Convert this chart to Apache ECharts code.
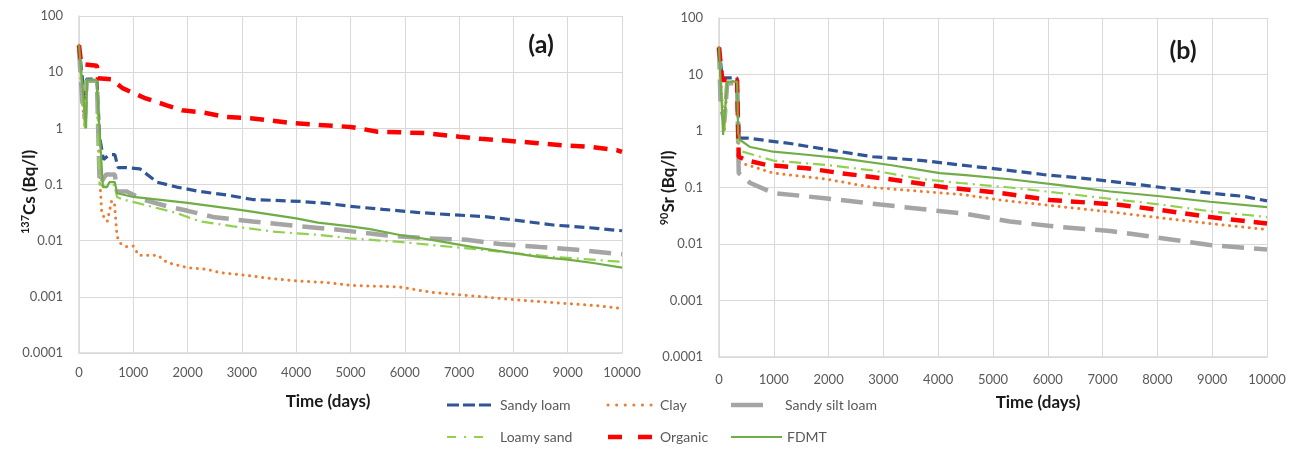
<!DOCTYPE html>
<html>
<head>
<meta charset="utf-8">
<script src="https://cdn.jsdelivr.net/npm/echarts@6/dist/echarts.min.js"></script>
<style>
html,body{margin:0;padding:0;background:#fff;}
#c{width:1298px;height:449px;}
</style>
</head>
<body>
<div id="c"></div>
<script>
// ---------- DATA ----------
const xTicks = [0,1000,2000,3000,4000,5000,6000,7000,8000,9000,10000];
const yTicks = [0.0001,0.001,0.01,0.1,1,10,100];
const seriesNames = ['Sandy loam','Clay','Sandy silt loam','Loamy sand','Organic','FDMT'];

// (a) 137Cs  [day, Bq/l]
const csSandyLoam = [[0,30],[60,8],[110,3],[140,7.5],[330,7.5],[380,0.7],[450,0.28],[560,0.34],[660,0.34],[720,0.2],[880,0.2],[1120,0.19],[1440,0.11],[1800,0.09],[2230,0.075],[2720,0.065],[3200,0.054],[4070,0.05],[4570,0.046],[4990,0.041],[5600,0.036],[6220,0.032],[6830,0.029],[7440,0.027],[8070,0.023],[8730,0.019],[9410,0.017],[10000,0.015]];
const csClay = [[0,30],[60,3],[110,1],[140,7],[330,7],[370,0.2],[420,0.03],[520,0.022],[600,0.05],[650,0.05],[700,0.012],[760,0.009],[880,0.0078],[1000,0.008],[1100,0.0055],[1450,0.0055],[1620,0.0041],[2000,0.0033],[2350,0.0031],[2600,0.0027],[3100,0.0024],[3570,0.0021],[4070,0.0019],[4570,0.0018],[5000,0.0016],[5900,0.0015],[6500,0.0012],[7440,0.001],[8070,0.00088],[8980,0.00076],[9500,0.0007],[10000,0.00062]];
const csSandySiltLoam = [[0,25],[60,3],[110,1.5],[140,7],[330,7],[380,0.1],[500,0.15],[660,0.15],[700,0.075],[880,0.075],[1180,0.054],[1620,0.041],[2000,0.034],[2500,0.026],[3200,0.022],[4070,0.018],[4680,0.016],[5600,0.0126],[6400,0.011],[7140,0.0104],[7750,0.0087],[8490,0.0077],[9170,0.0069],[10000,0.0057]];
const csLoamySand = [[0,28],[60,4],[110,1],[140,7],[330,7],[380,0.1],[500,0.09],[660,0.1],[700,0.06],[810,0.054],[1070,0.047],[1800,0.031],[2230,0.022],[2840,0.018],[3570,0.0145],[4440,0.0126],[4990,0.011],[5910,0.0095],[6830,0.0078],[7750,0.0064],[8670,0.0052],[10000,0.0042]];
const csOrganic = [[0,30],[40,14],[330,13],[350,7.8],[600,7.5],[800,5.2],[1200,3.5],[1600,2.6],[1900,2.1],[2300,1.9],[2700,1.6],[3200,1.5],[3900,1.25],[4400,1.15],[5000,1.06],[5500,0.87],[5900,0.85],[6400,0.82],[7000,0.71],[7400,0.65],[7900,0.6],[8400,0.55],[8900,0.5],[9400,0.47],[9900,0.41],[10000,0.38]];
const csFDMT = [[0,30],[130,1],[150,7.2],[325,7.2],[440,0.09],[515,0.09],[560,0.11],[660,0.11],[700,0.07],[1000,0.06],[2000,0.047],[3000,0.035],[4000,0.025],[4400,0.021],[5000,0.018],[5360,0.016],[5910,0.0126],[6520,0.0102],[7260,0.0077],[8000,0.006],[8500,0.0051],[9000,0.0046],[9470,0.004],[10000,0.0033]];

// (b) 90Sr  [day, Bq/l]
const srSandyLoam = [[0,30],[60,8.7],[330,8.7],[370,0.75],[510,0.75],[1300,0.6],[1970,0.47],[2810,0.35],[3720,0.3],[4400,0.25],[5130,0.21],[5910,0.17],[6820,0.14],[7740,0.11],[8650,0.085],[9560,0.07],[10000,0.058]];
const srClay = [[0,30],[60,3],[100,1],[150,7.5],[330,7.5],[360,0.28],[990,0.18],[1970,0.14],[2810,0.1],[3720,0.085],[4450,0.075],[5130,0.06],[6220,0.046],[7140,0.037],[8050,0.029],[8960,0.023],[10000,0.018]];
const srSandySiltLoam = [[0,30],[30,2.7],[100,1.5],[150,7],[330,7],[360,0.18],[570,0.12],[990,0.08],[1970,0.064],[2940,0.05],[3850,0.04],[4520,0.034],[5310,0.025],[6220,0.02],[7140,0.017],[8050,0.0128],[8960,0.0096],[10000,0.008]];
const srLoamySand = [[0,30],[60,3],[100,1],[150,7.5],[330,7.5],[360,0.45],[990,0.3],[1970,0.25],[2810,0.2],[3720,0.14],[4400,0.12],[5310,0.1],[6220,0.08],[7140,0.063],[8050,0.05],[8960,0.038],[10000,0.03]];
const srOrganic = [[0,30],[60,8],[330,8],[360,0.35],[510,0.3],[880,0.25],[1600,0.22],[2210,0.18],[3120,0.14],[4160,0.1],[5130,0.08],[6040,0.06],[7260,0.05],[8050,0.04],[8960,0.03],[10000,0.023]];
const srFDMT = [[0,30],[75,0.85],[150,7.5],[330,7.5],[350,0.9],[380,0.7],[570,0.52],[990,0.43],[1600,0.38],[2210,0.33],[3120,0.25],[4030,0.18],[4500,0.165],[5310,0.14],[6220,0.11],[7140,0.085],[8050,0.07],[8960,0.056],[10000,0.045]];

// ---------- STYLES ----------
const styles = {
  'Sandy loam':      {color:'#2F5597', width:3.2, type:[10,5],    cap:'butt'},
  'Clay':            {color:'#ED7D31', width:3,   type:[0.1,6.5], cap:'round'},
  'Sandy silt loam': {color:'#A5A5A5', width:4.5, type:[22,10],   cap:'butt'},
  'Loamy sand':      {color:'#92D050', width:2.2, type:[12,5,2,5],cap:'butt'},
  'Organic':         {color:'#FF0000', width:4.5, type:[14,9],    cap:'butt'},
  'FDMT':            {color:'#70AD47', width:2.2, type:'solid',   cap:'butt'}
};
const dataA = [csSandyLoam,csClay,csSandySiltLoam,csLoamySand,csOrganic,csFDMT];
const dataB = [srSandyLoam,srClay,srSandySiltLoam,srLoamySand,srOrganic,srFDMT];

const FONT = 'Lato, "Open Sans", sans-serif';
const LABEL = '#595959';
const GRIDC = '#D9D9D9';

function mkSeries(arr, idx){
  return seriesNames.map((n,i)=>({
    name:n, type:'line', xAxisIndex:idx, yAxisIndex:idx, data:arr[i],
    showSymbol:false, symbol:'none', smooth:false, animation:false,
    z: n==='FDMT'?3:2,
    lineStyle:{color:styles[n].color, width:styles[n].width, type:styles[n].type, cap:styles[n].cap},
    itemStyle:{color:styles[n].color}
  }));
}
function fmtY(v){ return String(Number(v.toPrecision(1))); }
function mkX(idx, margin){
  return {gridIndex:idx, type:'value', min:0, max:10000, interval:1000,
    axisLine:{show:true,lineStyle:{color:GRIDC,width:1.5}}, axisTick:{show:false},
    splitLine:{show:true,lineStyle:{color:GRIDC,width:1}},
    axisLabel:{color:LABEL,fontSize:13,fontFamily:FONT,margin:margin,formatter:v=>String(v)}};
}
function mkY(idx){
  return {gridIndex:idx, type:'log', logBase:10, min:0.0001, max:100,
    axisLine:{show:true,lineStyle:{color:GRIDC,width:1.5}}, axisTick:{show:false},
    splitLine:{show:true,lineStyle:{color:GRIDC,width:1}},
    axisLabel:{color:LABEL,fontSize:13,fontFamily:FONT,margin:16,formatter:fmtY}};
}

// legend (drawn as graphics): symbol x range, row centre y, text x, legend line dash
const legendItems = [
  {n:'Sandy loam',      x1:447, x2:492, y:405, tx:500, dash:[12,4]},
  {n:'Clay',            x1:608, x2:652, y:405, tx:660, dash:[0.1,8.5]},
  {n:'Sandy silt loam', x1:731, x2:763, y:405, tx:785, dash:'solid'},
  {n:'Loamy sand',      x1:447, x2:490, y:437, tx:500, dash:[9,8,2,8]},
  {n:'Organic',         x1:608, x2:652, y:437, tx:660, dash:[14,16]},
  {n:'FDMT',            x1:731, x2:782, y:437, tx:787, dash:'solid'}
];
const legendGraphics = [];
legendItems.forEach(it=>{
  const s = styles[it.n];
  legendGraphics.push({type:'line', shape:{x1:it.x1,y1:it.y,x2:it.x2,y2:it.y},
    style:{stroke:s.color, lineWidth:s.width, lineDash:it.dash==='solid'?null:it.dash, lineCap:s.cap}});
  legendGraphics.push({type:'text', x:it.tx, y:it.y,
    style:{text:it.n, align:'left', verticalAlign:'middle', fontSize:14, fill:LABEL, fontFamily:FONT}});
});

const chart = echarts.init(document.getElementById('c'), null, {renderer:'canvas'});
chart.setOption({
  backgroundColor:'#fff',
  animation:false,
  textStyle:{fontFamily:FONT},
  grid:[
    {left:79, top:16, width:543, height:337},
    {left:719, top:18, width:548, height:339}
  ],
  xAxis:[mkX(0,13), mkX(1,16)],
  yAxis:[mkY(0), mkY(1)],
  graphic:[
    {type:'text', x:30, y:192, rotation:Math.PI/2,
      style:{text:'{s|137}{m|Cs (Bq/l)}', align:'center', verticalAlign:'middle',
        rich:{s:{fontSize:11,fontWeight:'bold',fill:'#1a1a1a',fontFamily:FONT,padding:[0,0,9,0]},
              m:{fontSize:17,fontWeight:'bold',fill:'#1a1a1a',fontFamily:FONT}}}},
    {type:'text', x:669, y:188, rotation:Math.PI/2,
      style:{text:'{s|90}{m|Sr (Bq/l)}', align:'center', verticalAlign:'middle',
        rich:{s:{fontSize:11,fontWeight:'bold',fill:'#1a1a1a',fontFamily:FONT,padding:[0,0,9,0]},
              m:{fontSize:17,fontWeight:'bold',fill:'#1a1a1a',fontFamily:FONT}}}},
    {type:'text', x:328, y:402, style:{text:'Time (days)', align:'center', verticalAlign:'middle', fontSize:17, fontWeight:'bold', fill:'#1a1a1a', fontFamily:FONT}},
    {type:'text', x:1038, y:403, style:{text:'Time (days)', align:'center', verticalAlign:'middle', fontSize:17, fontWeight:'bold', fill:'#1a1a1a', fontFamily:FONT}},
    {type:'text', x:541, y:45, style:{text:'(a)', align:'center', verticalAlign:'middle', fontSize:25, fontWeight:'bold', fill:'#1a1a1a', fontFamily:FONT}},
    {type:'text', x:1183, y:51, style:{text:'(b)', align:'center', verticalAlign:'middle', fontSize:25, fontWeight:'bold', fill:'#1a1a1a', fontFamily:FONT}},
    ...legendGraphics
  ],
  series:[...mkSeries(dataA,0), ...mkSeries(dataB,1)]
});
</script>
</body>
</html>
